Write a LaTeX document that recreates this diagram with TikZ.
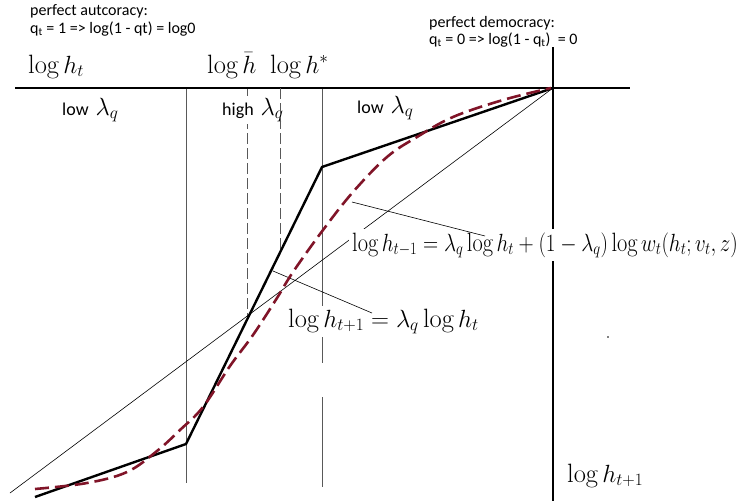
\documentclass[tikz,border=0pt]{standalone}
\usepackage{fontspec}
\usepackage{graphicx}
\newfontfamily\calibrifont{Carlito}
\definecolor{curvered}{RGB}{128,20,40}
\begin{document}
\begin{tikzpicture}[x=1pt,y=-1pt,
  axisline/.style={line width=2.8pt},
  guide/.style={line width=0.8pt, draw=black!65},
  guidedash/.style={guide, dash pattern=on 11pt off 4pt},
  thinline/.style={line width=0.6pt},
  kinked/.style={line width=2.4pt, line join=round},
  smoothcurve/.style={line width=2.6pt, draw=curvered, dash pattern=on 14pt off 6pt},
  mathlbl/.style={inner sep=0pt, anchor=base west, font=\fontsize{26.5}{31}\selectfont},
  boxlbl/.style={mathlbl, fill=white, inner sep=3pt},
  sanslbl/.style={inner sep=0pt, anchor=base west, font=\calibrifont\fontsize{16}{19}\selectfont},
  lamlbl/.style={inner sep=0pt, anchor=base west, font=\fontsize{26}{30}\selectfont},
]
\useasboundingbox (0,0) rectangle (745,501);
\coordinate (O) at (553,88);

% guides
\draw[guide] (186,88) -- (186,483);
\draw[guide] (322,88) -- (322,363);
\draw[guide] (322,397) -- (322,487);
\draw[guidedash] (247,88) -- (247,320);

% thin 45-degree line
\coordinate (D0) at (10,493);
\draw[thinline] (D0) -- (O);

% axes
\draw[axisline] (15,88) -- (630,88);
\draw[axisline] (553,47) -- (553,501);

% region labels
\node[lamlbl] (lowL) at (62,115) {{\calibrifont\fontsize{18}{21}\selectfont low}\hspace{7pt}$\lambda_q$};
\node[lamlbl, fill=white, inner sep=2pt] (highM) at (220,115) {{\calibrifont\fontsize{18}{21}\selectfont high}\hspace{7pt}$\lambda_q$};
\node[lamlbl] (lowR) at (357,113) {{\calibrifont\fontsize{18}{21}\selectfont low}\hspace{7pt}$\lambda_q$};
\draw[guidedash] (280,88) -- (280,253);

% equation labels
\node[boxlbl] (eqA) at (349,251) {\scalebox{0.845}[1]{$\log h_{t-1} = \lambda_q\log h_t + (1-\lambda_q)\log w_t(h_t;v_t,z)$}};
\node[boxlbl] (eqB) at (285,327) {$\log h_{t+1} = \lambda_q\log h_t$};

% pointers
\coordinate (PA0) at (352,202);
\coordinate (PA1) at (485,236);
\draw[thinline] (PA0) -- (PA1);
\coordinate (PB0) at (273,271);
\coordinate (PB1) at (372,313);
\draw[thinline] (PB0) -- (PB1);

% kinked policy line
\coordinate (K0) at (35,497);
\coordinate (K1) at (186,444);
\coordinate (K2) at (322,167);
\draw[kinked] (K0) -- (K1) -- (K2) -- (O);

% smooth curve
\draw[smoothcurve] plot[smooth, tension=0.6] coordinates {(35,489) (87,483) (127,472) (157,451) (180,430) (203,407) (230,366) (253,335) (277,298) (293,272) (323,230) (353,192) (387,157) (417,137) (453,117) (503,100) (551,88)};

% axis labels
\node[mathlbl] (lht) at (28,73) {$\log h_t$};
\node[mathlbl] (lhbar) at (207,73) {$\log\bar h$};
\node[mathlbl] (lhstar) at (270,73) {$\log h^*$};
\node[mathlbl] (lht1) at (567,482) {$\log h_{t+1}$};

% top notes
\node[sanslbl] (autoc1) at (30,15) {perfect autcoracy:};
\node[sanslbl] (autoc2) at (30,33) {q\textsubscript{t} = 1 => log(1 - qt) = log0};
\node[sanslbl] (democ1) at (429,27) {perfect democracy:};
\node[sanslbl] (democ2) at (429,44) {q\textsubscript{t} = 0 => log(1 - q\textsubscript{t})\ \ = 0};

\fill (608,337) circle (0.8pt);
\end{tikzpicture}
\end{document}
